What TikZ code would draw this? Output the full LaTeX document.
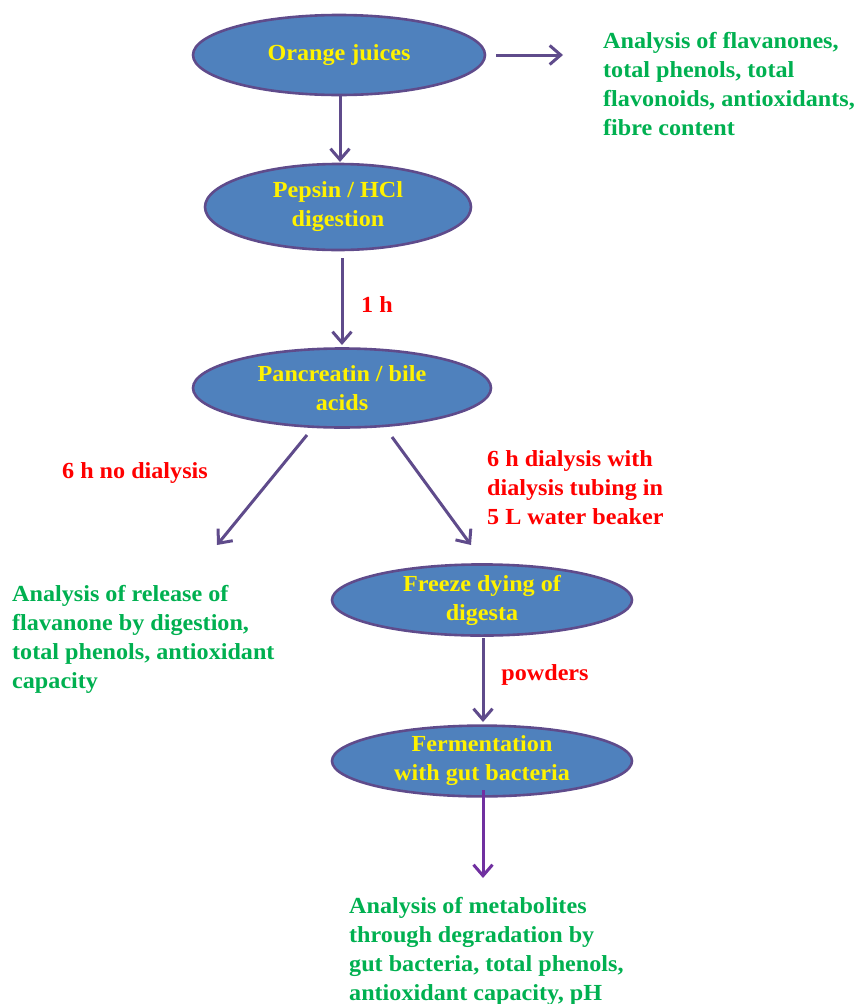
\documentclass[tikz,border=0pt]{standalone}
\usepackage{fontspec}
\setmainfont[FakeStretch=1.05]{Liberation Serif}
\usetikzlibrary{shapes.geometric,arrows.meta}
\definecolor{stepblue}{HTML}{4F81BD}
\definecolor{stepedge}{HTML}{5F4B8B}
\definecolor{notegreen}{HTML}{00B050}
\definecolor{arrowpurple}{HTML}{7030A0}
\tikzset{
	stepbox/.style={ellipse, draw=stepedge, line width=2.6pt, fill=stepblue, text=yellow, inner sep=0pt, align=center, font=\fontsize{23}{29}\selectfont\bfseries},
	note/.style={text=notegreen, align=left, anchor=north west, inner sep=0pt, font=\fontsize{23}{29}\selectfont\bfseries},
	timing/.style={text=red, align=left, inner sep=0pt, font=\fontsize{23}{29}\selectfont\bfseries},
	flow/.style={draw=stepedge, line width=3pt, -{Straight Barb[length=11pt,width=19pt]}},
}
\begin{document}
\begin{tikzpicture}[x=1pt,y=-1pt]
	\useasboundingbox (0,0) rectangle (858,1004);
	
	%ellipses
	\node[stepbox, minimum width=292pt, minimum height=80pt] (oj) at (339,55) {Orange juices};
	\node[stepbox, minimum width=266pt, minimum height=86pt] (pep) at (338,207) {Pepsin / HCl\\digestion};
	\node[stepbox, minimum width=298pt, minimum height=79pt] (pan) at (342,388) {Pancreatin / bile\\acids};
	\node[stepbox, minimum width=300pt, minimum height=65pt] (frz) at (482,600) {Freeze dying of\\digesta};
	\node[stepbox, minimum width=300pt, minimum height=58pt] (fer) at (482,761) {Fermentation\\with gut bacteria};
	
	%green notes
	\node[note] (top) at (603,32) {Analysis of flavanones,\\total phenols, total\\flavonoids, antioxidants,\\fibre content};
	\node[note] (left) at (12,585) {Analysis of release of\\flavanone by digestion,\\total phenols, antioxidant\\capacity};
	\node[note] (bot) at (349,897) {Analysis of metabolites\\through degradation by\\gut bacteria, total phenols,\\antioxidant capacity, pH};
	
	%red labels
	\node[timing] (t1) at (377,305) {1 h};
	\node[timing] (t2) at (135,473) {6 h no dialysis};
	\node[timing, anchor=north west] (t3) at (487,450) {6 h dialysis with\\dialysis tubing in\\5 L water beaker};
	\node[timing] (t4) at (545,675) {powders};
	
	%arrow ends
	\coordinate (ojR) at (563,55);
	\coordinate (pepB) at (342,258);
	\coordinate (panT) at (342,345);
	\coordinate (panL) at (307,435);
	\coordinate (panR) at (392,437);
	\coordinate (leftE) at (217,545);
	\coordinate (rightE) at (471,545);
	\coordinate (frzB) at (483,638);
	\coordinate (ferT) at (483,722);
	\coordinate (ferB) at (483,790);
	\coordinate (botE) at (483,878);
	
	%arrows
	\draw[flow] (oj.east) ++(10,0) -- (ojR);
	\draw[flow] (oj.south -| 340,0) -- (340,162);
	\draw[flow] (pepB) -- (panT);
	\draw[flow] (panL) -- (leftE);
	\draw[flow] (panR) -- (rightE);
	\draw[flow] (frzB) -- (ferT);
	\draw[flow, draw=arrowpurple] (ferB) -- (botE);
\end{tikzpicture}
\end{document}
